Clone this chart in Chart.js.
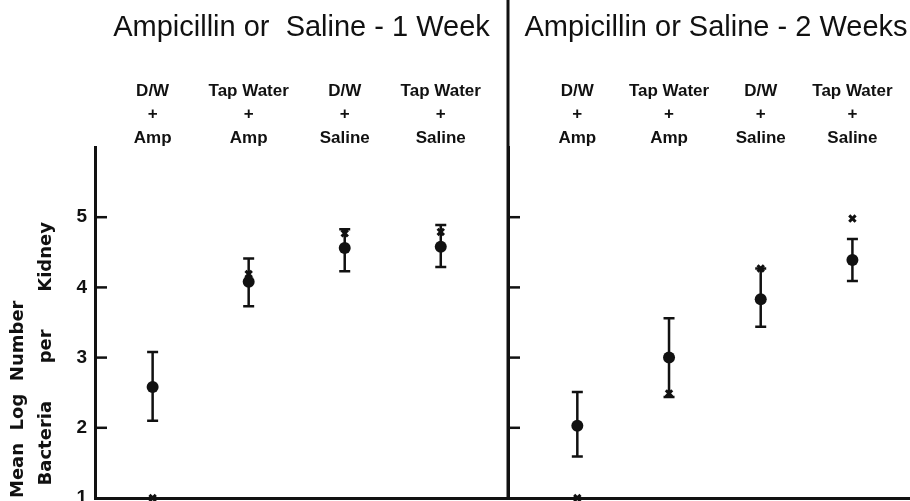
<!DOCTYPE html>
<html>
<head>
<meta charset="utf-8">
<title>Mean log number of bacteria per kidney</title>
<script src="https://cdn.jsdelivr.net/npm/chart.js@4.4.1/dist/chart.umd.min.js"></script>
<style>
  body { margin: 0; background: #fff; }
  #wrap { position: relative; width: 910px; height: 501px; overflow: hidden; background: #fff; }
  canvas { position: absolute; top: 0; }
  #week1 { left: 0; }
  #week2 { left: 500px; }
</style>
</head>
<body>
<div id="wrap">
  <canvas id="week1" width="508" height="501"></canvas>
  <canvas id="week2" width="410" height="501"></canvas>
</div>
<script>
// Treatment groups, same order in both panels
const groupIndex = [1, 2, 3, 4]
const groupLabels = [
  ["D/W", "+", "Amp"],
  ["Tap Water", "+", "Amp"],
  ["D/W", "+", "Saline"],
  ["Tap Water", "+", "Saline"],
]
const yTicks = [1, 2, 3, 4, 5]

// Ampicillin or saline - 1 week: mean (dot), error bar ends, "x" marks
const week1Mean = [2.58, 4.08, 4.56, 4.58]
const week1Upper = [3.08, 4.41, 4.83, 4.89]
const week1Lower = [2.1, 3.73, 4.23, 4.29]
const week1Cross = [1.0, 4.19, 4.77, 4.79]

// Ampicillin or saline - 2 weeks
const week2Mean = [2.03, 3.0, 3.83, 4.39]
const week2Upper = [2.51, 3.56, 4.27, 4.69]
const week2Lower = [1.59, 2.44, 3.44, 4.09]
const week2Cross = [1.0, 2.49, 4.27, 4.98]

const INK = "#111"
const FONT = "'Liberation Sans', Arial, sans-serif"

// Draws the panel title, inward tick marks, the divider and the error bars
const panelPlugin = {
  id: "panel",
  beforeDatasetsDraw(chart, args, opts) {
    const { ctx, chartArea } = chart
    const xs = chart.scales.x
    const ys = chart.scales.y
    ctx.save()
    ctx.strokeStyle = INK
    ctx.fillStyle = INK

    if (opts.divider) {
      ctx.lineWidth = 3
      ctx.beginPath()
      ctx.moveTo(chartArea.left, 0)
      ctx.lineTo(chartArea.left, chartArea.bottom)
      ctx.stroke()
    }

    // tick marks point into the plot
    ctx.lineWidth = 2.5
    ys.ticks.forEach((t) => {
      if (t.value <= ys.min || t.value >= ys.max) return
      const py = ys.getPixelForValue(t.value)
      ctx.beginPath()
      ctx.moveTo(chartArea.left, py)
      ctx.lineTo(chartArea.left + 12, py)
      ctx.stroke()
    })

    // error bars with caps
    opts.upper.forEach((hi, i) => {
      const px = xs.getPixelForValue(groupIndex[i])
      const top = ys.getPixelForValue(hi)
      const bottom = ys.getPixelForValue(opts.lower[i])
      ctx.lineWidth = 2.5
      ctx.beginPath()
      ctx.moveTo(px, top)
      ctx.lineTo(px, bottom)
      ctx.moveTo(px - 5.5, top)
      ctx.lineTo(px + 5.5, top)
      ctx.moveTo(px - 5.5, bottom)
      ctx.lineTo(px + 5.5, bottom)
      ctx.stroke()
    })

    ctx.font = "29px " + FONT
    ctx.textAlign = "center"
    ctx.textBaseline = "alphabetic"
    ctx.fillText(opts.title, (chartArea.left + chartArea.right) / 2 + opts.titleShift, 36)
    ctx.restore()
  },
}

// keep the plot area exactly where the axes say, no label overflow padding
function fixBox(size, key) {
  return (s) => {
    s[key] = size
    s.paddingTop = 0
    s.paddingBottom = 0
    s.paddingLeft = 0
    s.paddingRight = 0
  }
}

function makePanel(canvasId, cfg) {
  const points = (vals) => vals.map((v, i) => ({ x: groupIndex[i], y: v }))

  return new Chart(document.getElementById(canvasId), {
    type: "scatter",
    data: {
      datasets: [
        {
          data: points(cfg.mean),
          pointStyle: "circle",
          pointRadius: 6,
          backgroundColor: INK,
          borderColor: INK,
          borderWidth: 0,
          clip: false,
        },
        {
          data: points(cfg.cross),
          pointStyle: "crossRot",
          pointRadius: 4.5,
          borderColor: INK,
          borderWidth: 3,
          clip: false,
        },
      ],
    },
    options: {
      responsive: false,
      animation: false,
      devicePixelRatio: 1,
      layout: { padding: 0, autoPadding: false },
      plugins: {
        legend: { display: false },
        tooltip: { enabled: false },
        panel: {
          title: cfg.title,
          titleShift: cfg.titleShift,
          upper: cfg.upper,
          lower: cfg.lower,
          divider: cfg.divider,
        },
      },
      scales: {
        x: {
          type: "linear",
          position: "bottom",
          min: cfg.xMin,
          max: cfg.xMax,
          grid: { display: false },
          border: { display: true, color: INK, width: 3 },
          ticks: { display: false },
          afterFit: fixBox(3, "height"),
        },
        xTop: {
          type: "linear",
          position: "top",
          min: cfg.xMin,
          max: cfg.xMax,
          grid: { display: false },
          border: { display: false },
          afterBuildTicks: (s) => { s.ticks = groupIndex.map((v) => ({ value: v })) },
          ticks: {
            autoSkip: false,
            maxRotation: 0,
            padding: -11,
            color: INK,
            font: { family: FONT, size: 17, weight: "bold", lineHeight: 1.38 },
            callback: (v, i) => groupLabels[i],
          },
          afterFit: fixBox(147, "height"),
        },
        y: {
          type: "linear",
          min: 1,
          max: 6,
          grid: { display: false },
          border: { display: true, color: INK, width: 3 },
          afterBuildTicks: (s) => { s.ticks = yTicks.map((v) => ({ value: v })) },
          ticks: {
            display: cfg.yLabels,
            padding: 0,
            color: INK,
            font: { family: FONT, size: 19, weight: "bold" },
          },
          title: {
            display: cfg.yLabels,
            text: ["Mean  Log  Number", "  Bacteria      per      Kidney"],
            align: "start",
            color: INK,
            font: { family: "'DejaVu Sans', sans-serif", size: 18, weight: "bold", lineHeight: 1.55 },
            padding: { top: 4, bottom: 0 },
          },
          afterFit: fixBox(cfg.yWidth, "width"),
        },
      },
    },
    plugins: [panelPlugin],
  })
}

makePanel("week1", {
  title: "Ampicillin or  Saline - 1 Week",
  titleShift: 0,
  mean: week1Mean,
  upper: week1Upper,
  lower: week1Lower,
  cross: week1Cross,
  xMin: 0.4,
  xMax: 4.7,
  yLabels: true,
  yWidth: 95,
  divider: false,
})

makePanel("week2", {
  title: "Ampicillin or Saline - 2 Weeks",
  titleShift: 7,
  mean: week2Mean,
  upper: week2Upper,
  lower: week2Lower,
  cross: week2Cross,
  xMin: 0.244,
  xMax: 4.628,
  yLabels: false,
  yWidth: 8,
  divider: true,
})
</script>
</body>
</html>
